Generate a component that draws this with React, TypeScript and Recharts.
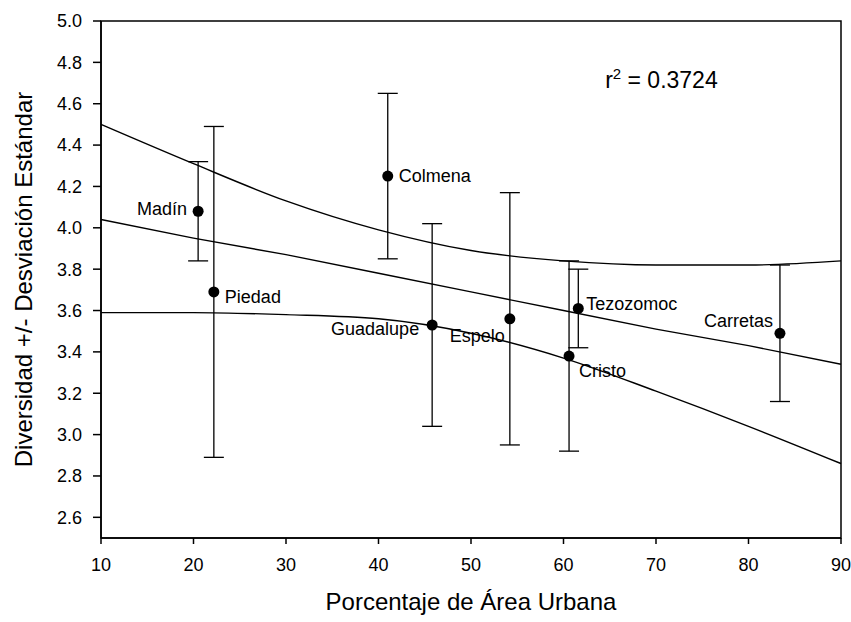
import React from 'react'
import {
  ComposedChart, Line, Scatter, ErrorBar, XAxis, YAxis, ReferenceArea, ReferenceDot,
} from 'recharts'

// sites sampled, % urban area, mean diversity and its standard deviation
const sites = ['Madín', 'Piedad', 'Colmena', 'Guadalupe', 'Espelo', 'Cristo', 'Tezozomoc', 'Carretas']
const urban = [20.5, 22.2, 41.0, 45.8, 54.2, 60.6, 61.6, 83.4]
const diversity = [4.08, 3.69, 4.25, 3.53, 3.56, 3.38, 3.61, 3.49]
const sd = [0.24, 0.8, 0.4, 0.49, 0.61, 0.46, 0.19, 0.33]

// regression line and its confidence band, read at every 10 %
const fitX = [10, 20, 30, 40, 50, 60, 70, 80, 90]
const fitMid = [4.04, 3.95, 3.87, 3.78, 3.69, 3.6, 3.51, 3.43, 3.34]
const fitUpper = [4.5, 4.31, 4.13, 3.99, 3.89, 3.84, 3.82, 3.82, 3.84]
const fitLower = [3.59, 3.59, 3.58, 3.56, 3.49, 3.37, 3.21, 3.04, 2.86]

const ticksX = [10, 20, 30, 40, 50, 60, 70, 80, 90]
const ticksY = [2.6, 2.8, 3.0, 3.2, 3.4, 3.6, 3.8, 4.0, 4.2, 4.4, 4.6, 4.8, 5.0]

const r2 = '0.3724'

const font = '"Liberation Sans", Arial, sans-serif'

// where each site's name sits relative to its dot
const labelPlace: Record<string, { dx: number; dy: number; anchor: 'start' | 'end' }> = {
  'Madín': { dx: -11, dy: 4, anchor: 'end' },
  Piedad: { dx: 11, dy: 11, anchor: 'start' },
  Colmena: { dx: 11, dy: 6, anchor: 'start' },
  Guadalupe: { dx: -13, dy: 10, anchor: 'end' },
  Espelo: { dx: -5, dy: 23, anchor: 'end' },
  Cristo: { dx: 10, dy: 21, anchor: 'start' },
  Tezozomoc: { dx: 8, dy: 2, anchor: 'start' },
  Carretas: { dx: -7, dy: -6, anchor: 'end' },
}

const points = sites.map((name, i) => ({ name, x: urban[i], y: diversity[i], sd: sd[i] }))
const fitRows = fitX.map((x, i) => ({ x, mid: fitMid[i], upper: fitUpper[i], lower: fitLower[i] }))

const SiteDot = (props: any) => {
  const { cx, cy, payload } = props
  const p = labelPlace[payload.name]
  return (
    <g>
      <circle cx={cx} cy={cy} r={5.5} fill="#000" />
      <text x={cx + p.dx} y={cy + p.dy} textAnchor={p.anchor} fontSize={18} fontFamily={font} fill="#000">
        {payload.name}
      </text>
    </g>
  )
}

const R2Label = (props: any) => {
  const { viewBox } = props
  return (
    <text x={viewBox.x} y={viewBox.y} fontSize={23} fontFamily={font} fill="#000">
      <tspan>r</tspan>
      <tspan dy={-9} fontSize={15}>2</tspan>
      <tspan dy={9}>{` = ${r2}`}</tspan>
    </text>
  )
}

export default function App() {
  const tickStyle = { fill: '#000', fontSize: 18, fontFamily: font }
  return (
    <div style={{ position: 'absolute', left: 0, top: 0, background: '#fff' }}>
      <ComposedChart width={851} height={622} data={fitRows} margin={{ top: 21, right: 10, bottom: 0, left: 0 }}>
        <XAxis
          dataKey="x"
          type="number"
          domain={[10, 90]}
          ticks={ticksX}
          height={84}
          tick={tickStyle}
          tickSize={6}
          tickMargin={14}
          stroke="#000"
          strokeWidth={1.5}
          label={{ value: 'Porcentaje de Área Urbana', position: 'insideBottom', offset: 12, fill: '#000', fontSize: 24, fontFamily: font }}
        />
        <YAxis
          type="number"
          domain={[2.5, 5.0]}
          ticks={ticksY}
          width={101}
          tick={tickStyle}
          tickFormatter={(v: number) => v.toFixed(1)}
          tickSize={8}
          tickMargin={11}
          stroke="#000"
          strokeWidth={1.5}
          label={{
            value: 'Diversidad +/- Desviación Estándar', angle: -90, position: 'insideLeft', offset: 23,
            fill: '#000', fontSize: 24, fontFamily: font, style: { textAnchor: 'middle' },
          }}
        />
        <ReferenceArea x1={10} x2={90} y1={2.5} y2={5.0} fill="none" stroke="#000" strokeWidth={1.5} />
        <Line dataKey="upper" type="monotone" stroke="#000" strokeWidth={1.4} dot={false} isAnimationActive={false} />
        <Line dataKey="mid" type="linear" stroke="#000" strokeWidth={1.4} dot={false} isAnimationActive={false} />
        <Line dataKey="lower" type="monotone" stroke="#000" strokeWidth={1.4} dot={false} isAnimationActive={false} />
        <Scatter data={points} dataKey="y" shape={SiteDot} isAnimationActive={false}>
          <ErrorBar dataKey="sd" direction="y" width={10} stroke="#000" strokeWidth={1.3} isAnimationActive={false} />
        </Scatter>
        <ReferenceDot x={64.5} y={4.676} r={0} fill="none" stroke="none" label={<R2Label />} />
      </ComposedChart>
    </div>
  )
}
